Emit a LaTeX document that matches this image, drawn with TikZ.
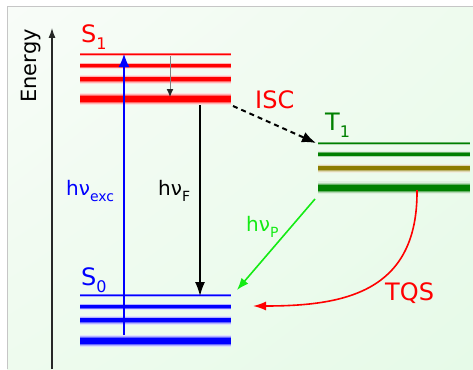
\documentclass[tikz,border=0pt]{standalone}
\usepackage{fontspec}
\setmainfont{DejaVu Sans}
\usetikzlibrary{arrows.meta,shadings}
\definecolor{bgA}{RGB}{248,252,248}
\definecolor{bgB}{RGB}{230,250,232}
\definecolor{bgC}{RGB}{238,251,238}
\definecolor{sred}{RGB}{255,0,0}
\definecolor{sblue}{RGB}{0,0,255}
\definecolor{tgreen}{RGB}{0,128,0}
\definecolor{tolive}{RGB}{140,125,0}
\definecolor{pgreen}{RGB}{20,235,20}
\definecolor{axisgray}{RGB}{40,40,40}
\newcommand{\lvl}[5]{%
  \draw[#1!12, line width=2.1*#5] (#2,#4) -- (#3,#4);
  \draw[#1!30, line width=1.7*#5] (#2,#4) -- (#3,#4);
  \draw[#1!60, line width=1.35*#5] (#2,#4) -- (#3,#4);
  \draw[#1, line width=#5] (#2,#4) -- (#3,#4);
}
\newcommand{\lsub}[1]{\raisebox{-0.32em}{\fontsize{16}{16}\selectfont #1}}
\newcommand{\ssub}[1]{\raisebox{-0.3em}{\fontsize{14}{14}\selectfont #1}}
\tikzset{
  lab/.style={inner sep=0pt, anchor=base west, font=\fontsize{24}{24}\selectfont},
  mlab/.style={inner sep=0pt, anchor=base west, font=\fontsize{20}{20}\selectfont},
}
\begin{document}
\begin{tikzpicture}[x=1pt,y=-1pt]
\useasboundingbox (0,0) rectangle (473,369);
\fill[white] (0,0) rectangle (473,369);
\shade[upper left=bgA, upper right=bgC, lower left=bgC, lower right=bgB] (7,7) rectangle (473,369);
\draw[gray!45, line width=1] (7,369) -- (7,7) -- (473,7);

% energy axis
\coordinate (axA) at (52,369);
\coordinate (axB) at (52,28);
\draw[axisgray, line width=1.2, -{Latex[length=10pt,width=7pt]}] (axA) -- (axB);
\node[rotate=90, inner sep=0pt, font=\fontsize{21}{21}\selectfont] (energy) at (31,66) {Energy};

% S1 levels
\lvl{sred}{80}{231}{54.3}{1.5pt}
\lvl{sred}{80}{231}{65.7}{3pt}
\lvl{sred}{80}{231}{79.3}{4pt}
\lvl{sred}{80}{231}{99}{6pt}
% S0 levels
\lvl{sblue}{80}{231}{295.3}{1.5pt}
\lvl{sblue}{80}{231}{306.7}{3pt}
\lvl{sblue}{80}{231}{320.3}{4pt}
\lvl{sblue}{80}{231}{341}{6pt}
% T1 levels
\lvl{tgreen}{318}{470}{143.3}{1.5pt}
\lvl{tgreen}{318}{470}{154.3}{3pt}
\lvl{tolive}{318}{470}{168.3}{4pt}
\lvl{tgreen}{318}{470}{187.7}{6pt}

% labels
\node[lab, text=sred] (s1) at (81,42) {S\lsub{1}};
\node[lab, text=sblue] (s0) at (81,285) {S\lsub{0}};
\node[lab, text=tgreen] (t1) at (325,130) {T\lsub{1}};
\node[lab, text=sred] (isc) at (255,108) {ISC};
\node[lab, text=sred] (tqs) at (385,300) {TQS};
\node[mlab, text=sblue] (hexc) at (66,195) {hν\ssub{exc}};
\node[mlab, text=black] (hf) at (158,195) {hν\ssub{F}};
\node[mlab, text=pgreen] (hp) at (246,231) {hν\ssub{P}};

% arrows
\coordinate (excA) at (124,335);
\coordinate (excB) at (124,54);
\draw[sblue, line width=1.6, -{Latex[length=13pt,width=11pt]}] (excA) -- (excB);

\coordinate (vrA) at (170,56);
\coordinate (vrB) at (170,97);
\draw[gray, line width=1, -{Latex[length=8pt,width=7pt,color=black!85]}] (vrA) -- (vrB);

\coordinate (fA) at (200,105);
\coordinate (fB) at (200,296);
\draw[black, line width=1.5, -{Latex[length=14pt,width=10pt]}] (fA) -- (fB);

\coordinate (iscA) at (233,106);
\coordinate (iscB) at (316,143);
\draw[black, line width=2, dash pattern=on 5pt off 4pt, -{Latex[length=14pt,width=11pt]}] (iscA) -- (iscB);

\coordinate (pA) at (315,199);
\coordinate (pB) at (237,290);
\draw[pgreen, line width=1.6, -{Latex[length=12pt,width=9pt]}] (pA) -- (pB);

\coordinate (qA) at (417,190);
\coordinate (qB) at (253,306);
\draw[sred, line width=1.6, -{Latex[length=13pt,width=9pt]}] (qA) .. controls (418,292) and (345,306) .. (qB);
\end{tikzpicture}
\end{document}
